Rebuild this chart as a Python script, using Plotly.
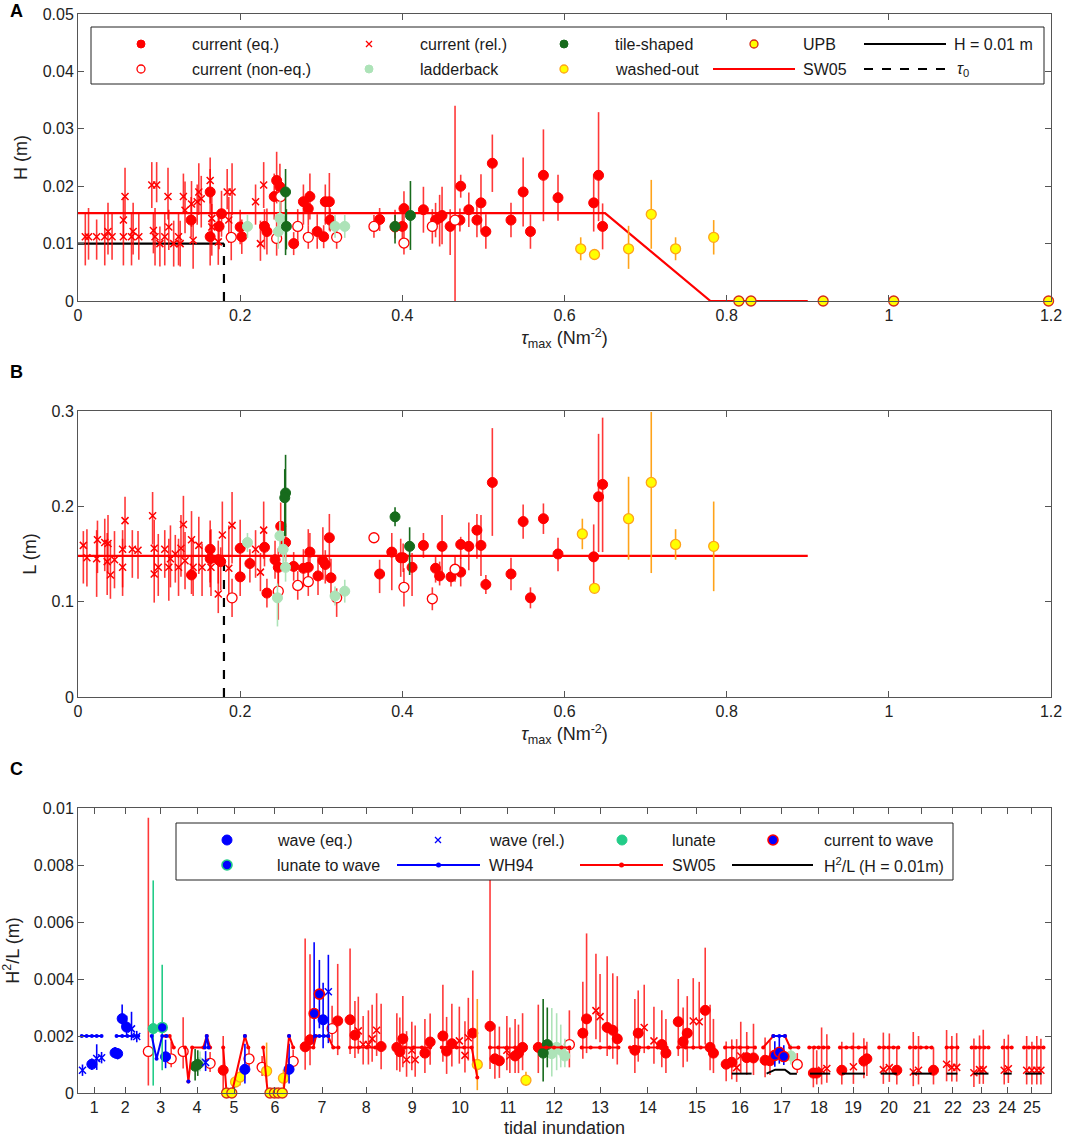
import plotly.graph_objects as go

# ======================= PANEL A : H vs tau_max =======================
A_eq_x = [0.1395,0.163,0.163,0.177,0.174,0.200,0.202,0.230,0.233,0.245,0.242,0.249,0.266,0.278,0.286,
          0.284,0.295,0.303,0.305,0.310,0.311,0.372,0.391,0.402,0.400,0.426,0.441,0.446,0.449,0.459,
          0.472,0.471,0.482,0.492,0.497,0.503,0.511,0.534,0.549,0.558,0.574,0.592,0.636,0.642,0.647]
A_eq_y = [0.0141,0.0190,0.0112,0.0152,0.0130,0.0129,0.0112,0.0130,0.0121,0.0210,0.0182,0.0199,0.0100,0.0173,0.0182,
          0.0161,0.0121,0.0112,0.0173,0.0173,0.0141,0.0142,0.0129,0.0161,0.0130,0.0159,0.0141,0.0145,0.0149,0.0130,
          0.0200,0.0141,0.0159,0.0141,0.0171,0.0121,0.0240,0.0141,0.0190,0.0121,0.0219,0.0180,0.0171,0.0219,0.0130]
A_eq_up = [0.004,0.004,0.003,0.004,0.003,0.003,0.003,0.003,0.004,0.005,0.004,0.004,0.002,0.003,0.004,
           0.003,0.003,0.002,0.003,0.005,0.002,0.002,0.003,0.003,0.003,0.004,0.003,0.004,0.005,0.003,
           0.002,0.002,0.003,0.003,0.005,0.003,0.005,0.003,0.006,0.003,0.008,0.004,0.005,0.011,0.004]
A_eq_dn = [0.003,0.004,0.005,0.004,0.004,0.003,0.003,0.004,0.004,0.004,0.004,0.004,0.002,0.004,0.004,
           0.003,0.003,0.002,0.004,0.005,0.002,0.002,0.002,0.004,0.003,0.004,0.003,0.005,0.005,0.005,
           0.002,0.002,0.003,0.003,0.005,0.003,0.005,0.003,0.006,0.003,0.008,0.004,0.005,0.008,0.004]

A_neq_x = [0.189,0.250,0.245,0.271,0.284,0.319,0.365,0.402,0.437,0.465]
A_neq_y = [0.0111,0.0182,0.0109,0.0130,0.0111,0.0111,0.0130,0.0101,0.0130,0.0141]
A_neq_up = [0.004,0.003,0.003,0.003,0.002,0.002,0.002,0.002,0.003,0.0199]
A_neq_dn = [0.004,0.003,0.003,0.003,0.002,0.002,0.002,0.002,0.003,0.0141]

A_rel_x = [0.009,0.013,0.023,0.033,0.037,0.042,0.056,0.056,0.058,0.066,0.068,0.075,0.091,0.097,0.093,0.095,
           0.101,0.107,0.111,0.112,0.118,0.124,0.126,0.130,0.132,0.140,0.142,0.147,0.149,0.152,0.163,0.165,
           0.165,0.173,0.184,0.190,0.186,0.219,0.225,0.229]
A_rel_y = [0.0112,0.0112,0.0112,0.0112,0.0121,0.0112,0.0112,0.0141,0.0182,0.0112,0.0121,0.0112,0.0202,0.0202,0.0123,0.0112,
           0.0100,0.0112,0.0182,0.0129,0.0100,0.0112,0.0100,0.0182,0.0158,0.0169,0.0106,0.0173,0.0190,0.0178,0.0210,0.0144,
           0.0129,0.0103,0.0190,0.0190,0.0141,0.0173,0.0100,0.0202]
A_rel_up = [0.004,0.005,0.003,0.004,0.005,0.004,0.003,0.004,0.005,0.004,0.005,0.004,0.004,0.004,0.003,0.005,
            0.003,0.004,0.005,0.003,0.004,0.004,0.004,0.004,0.005,0.004,0.004,0.003,0.005,0.004,0.004,0.004,
            0.004,0.005,0.004,0.005,0.004,0.003,0.004,0.004]
A_rel_dn = [0.005,0.004,0.004,0.005,0.004,0.004,0.005,0.003,0.004,0.005,0.004,0.004,0.004,0.003,0.004,0.005,
            0.004,0.005,0.004,0.004,0.004,0.005,0.004,0.003,0.004,0.004,0.005,0.004,0.004,0.005,0.004,0.004,
            0.005,0.004,0.003,0.004,0.004,0.004,0.003,0.004]

A_tile_x = [0.256,0.257,0.391,0.410]
A_tile_y = [0.0190,0.0130,0.0130,0.0149]
A_tile_up = [0.004,0.003,0.002,0.006]
A_tile_dn = [0.011,0.004,0.003,0.006]

A_lad_x = [0.209,0.249,0.247,0.317,0.329]
A_lad_y = [0.0130,0.0144,0.0121,0.0130,0.0130]
A_lad_up = [0.002,0.003,0.003,0.002,0.002]
A_lad_dn = [0.002,0.003,0.003,0.002,0.002]

A_wash_x = [0.620,0.637,0.679,0.707,0.737,0.784]
A_wash_y = [0.0091,0.0081,0.0091,0.0151,0.0091,0.0111]
A_wash_up = [0.002,0.0,0.004,0.006,0.002,0.003]
A_wash_dn = [0.002,0.0,0.0035,0.006,0.002,0.003]

A_upb_x = [0.815,0.830,0.919,1.006,1.197]
A_upb_y = [0.0,0.0,0.0,0.0,0.0]

A_sw05_x = [0.0,0.65,0.78,0.9]
A_sw05_y = [0.0153,0.0153,0.0,0.0]
H001_x = [0.0,0.18]
H001_y = [0.01,0.01]
TAU0 = 0.18
A_tau0_top = 0.01

# ======================= PANEL B : L vs tau_max =======================
B_eq_x = [0.140,0.163,0.163,0.173,0.176,0.200,0.200,0.212,0.230,0.233,0.243,0.250,0.247,0.256,0.266,0.278,
          0.284,0.286,0.296,0.302,0.305,0.310,0.312,0.372,0.387,0.398,0.401,0.412,0.426,0.441,0.446,0.449,
          0.460,0.472,0.472,0.482,0.492,0.497,0.503,0.511,0.534,0.549,0.558,0.574,0.592,0.636,0.642,0.647]
B_eq_y = [0.128,0.155,0.145,0.144,0.142,0.156,0.126,0.140,0.157,0.109,0.144,0.179,0.136,0.162,0.137,0.135,
          0.136,0.152,0.127,0.143,0.139,0.167,0.125,0.129,0.152,0.146,0.146,0.136,0.159,0.135,0.127,0.158,
          0.126,0.160,0.131,0.158,0.175,0.159,0.118,0.225,0.129,0.184,0.104,0.187,0.150,0.147,0.210,0.223]
B_eq_up = [0.020,0.030,0.030,0.020,0.015,0.030,0.020,0.015,0.020,0.015,0.020,0.025,0.020,0.020,0.015,0.020,
           0.040,0.020,0.020,0.035,0.015,0.025,0.020,0.015,0.020,0.020,0.015,0.015,0.013,0.013,0.015,0.033,
           0.010,0.008,0.015,0.025,0.017,0.032,0.010,0.057,0.017,0.018,0.011,0.016,0.017,0.034,0.066,0.070]
B_eq_dn = [0.020,0.035,0.030,0.025,0.030,0.030,0.020,0.020,0.020,0.015,0.020,0.030,0.030,0.020,0.015,0.020,
           0.020,0.020,0.020,0.020,0.020,0.030,0.020,0.020,0.040,0.020,0.015,0.030,0.013,0.015,0.010,0.030,
           0.010,0.015,0.015,0.025,0.030,0.032,0.010,0.056,0.017,0.018,0.011,0.016,0.018,0.031,0.058,0.071]

B_neq_x = [0.190,0.247,0.271,0.284,0.319,0.365,0.402,0.437,0.465]
B_neq_y = [0.104,0.111,0.117,0.121,0.104,0.167,0.115,0.103,0.134]
B_neq_up = [0.020,0.025,0.015,0.015,0.010,0.005,0.020,0.012,0.013]
B_neq_dn = [0.020,0.030,0.015,0.015,0.020,0.005,0.020,0.012,0.013]

B_rel_x = [0.0066,0.011,0.024,0.023,0.033,0.037,0.036,0.040,0.045,0.055,0.055,0.058,0.067,0.074,0.092,0.094,
           0.094,0.099,0.107,0.112,0.114,0.120,0.124,0.127,0.130,0.132,0.140,0.142,0.149,0.153,0.164,0.173,
           0.178,0.186,0.190,0.219,0.225,0.229]
B_rel_y = [0.159,0.146,0.165,0.145,0.162,0.161,0.142,0.128,0.144,0.155,0.136,0.185,0.155,0.154,0.190,0.156,
           0.129,0.136,0.155,0.136,0.145,0.150,0.136,0.156,0.181,0.143,0.165,0.136,0.159,0.136,0.136,0.108,
           0.170,0.135,0.180,0.155,0.131,0.175]
B_rel_up = [0.015,0.030,0.020,0.030,0.025,0.030,0.030,0.035,0.030,0.020,0.030,0.025,0.020,0.020,0.025,0.030,
            0.030,0.035,0.020,0.030,0.035,0.020,0.030,0.035,0.030,0.030,0.030,0.030,0.030,0.025,0.040,0.030,
            0.035,0.045,0.035,0.020,0.020,0.030]
B_rel_dn = [0.040,0.030,0.035,0.040,0.030,0.030,0.035,0.025,0.030,0.040,0.030,0.030,0.030,0.030,0.030,0.030,
            0.030,0.030,0.030,0.035,0.030,0.030,0.030,0.030,0.035,0.030,0.030,0.030,0.030,0.030,0.030,0.020,
            0.030,0.030,0.040,0.030,0.020,0.030]

B_tile_x = [0.256,0.255,0.391,0.409]
B_tile_y = [0.214,0.209,0.189,0.158]
B_tile_up = [0.040,0.030,0.010,0.020]
B_tile_dn = [0.045,0.040,0.010,0.030]

B_lad_x = [0.209,0.249,0.253,0.256,0.246,0.317,0.329]
B_lad_y = [0.162,0.169,0.155,0.136,0.104,0.106,0.111]
B_lad_up = [0.010,0.015,0.015,0.015,0.015,0.010,0.012]
B_lad_dn = [0.010,0.015,0.015,0.015,0.030,0.010,0.012]

B_wash_x = [0.622,0.637,0.679,0.707,0.737,0.784]
B_wash_y = [0.171,0.114,0.187,0.225,0.160,0.158]
B_wash_up = [0.016,0.0,0.044,0.074,0.016,0.047]
B_wash_dn = [0.016,0.0,0.043,0.095,0.016,0.047]

B_sw05_x = [0.0,0.9]
B_sw05_y = [0.148,0.148]
B_tau0_top = 0.14

# ======================= PANEL C : H^2/L per tidal inundation =======================
C_tick_pos = [4.3,12.6,22.1,31.8,41.7,52.6,65.2,77.0,89.3,102.1,114.9,127.2,139.5,152.3,165.4,176.9,
              188.1,198.0,207.1,216.7,225.5,233.8,241.3,248.3,254.9]
C_tick_txt = [str(i) for i in range(1, 26)]

C_eq_x = [38.8,60.7,62.0,69.4,72.7,74.0,81.0,85.2,86.0,86.8,92.7,94.1,97.5,98.5,99.9,105.5,110.1,111.4,112.6,
          116.8,117.7,118.8,123.0,134.9,135.9,141.4,142.9,144.1,148.8,149.7,156.0,157.1,160.4,161.7,162.8,
          167.6,168.9,169.8,173.2,174.7,178.7,180.5,183.6,184.9,196.5,197.4,204.1,210.0,210.8,218.8,228.6]
C_eq_y = [0.0008,0.00162,0.00187,0.00253,0.00257,0.00203,0.00163,0.0016,0.00145,0.0019,0.0014,0.00179,0.0020,
          0.00147,0.00173,0.0021,0.00234,0.0012,0.00113,0.0013,0.0014,0.0016,0.0016,0.0021,0.0026,0.0023,0.0022,
          0.0019,0.0015,0.0021,0.0017,0.0014,0.0025,0.0018,0.0021,0.0029,0.0016,0.0014,0.00101,0.00108,0.00124,
          0.00123,0.00115,0.00113,0.0007,0.0007,0.0008,0.00112,0.0012,0.0008,0.0008]
C_eq_up = [0.0012,0.0038,0.0030,0.0020,0.0025,0.0012,0.0015,0.0012,0.0012,0.0015,0.0012,0.0010,0.0018,0.0012,
           0.0014,0.0022,0.0052,0.0012,0.0012,0.0013,0.0010,0.0012,0.0015,0.0018,0.0030,0.0025,0.0020,0.0022,
           0.0018,0.0015,0.0012,0.0012,0.0015,0.0012,0.0013,0.0022,0.0015,0.0012,0.0008,0.0008,0.0009,0.0012,
           0.0008,0.0007,0.0009,0.0008,0.0010,0.0008,0.0006,0.0008,0.0008]
C_eq_dn = [0.0008,0.0008,0.0009,0.0012,0.0012,0.0008,0.0008,0.0008,0.0007,0.0010,0.0007,0.0008,0.0009,0.0008,
           0.0008,0.0010,0.0015,0.0007,0.0006,0.0006,0.0007,0.0008,0.0009,0.0009,0.0012,0.0010,0.0010,0.0009,
           0.0008,0.0010,0.0008,0.0007,0.0012,0.0009,0.0010,0.0012,0.0008,0.0007,0.0006,0.0006,0.0006,0.0006,
           0.0006,0.0005,0.0005,0.0004,0.0005,0.0006,0.0006,0.0005,0.0005]

C_neq_x = [18.8,24.9,28.1,35.3,45.7,49.2,57.5,67.9,131.3,192.2]
C_neq_y = [0.00146,0.0012,0.00146,0.00104,0.0012,0.0009,0.00111,0.00226,0.0017,0.0010]
C_neq_up = [0.0082,0.0006,0.0012,0.0004,0.0004,0.0004,0.0004,0.0008,0.0012,0.0004]
C_neq_dn = [0.0012,0.0003,0.0006,0.0003,0.0003,0.0003,0.0003,0.0005,0.0008,0.0003]

C_rel_x = [74.9,76.2,77.6,78.6,79.8,87.8,90.1,89.2,101.9,103.4,104.3,114.6,115.4,138.4,139.5,151.3,153.9,
           164.4,166.0,176.0,177.1,198.7,200.1,207.2,215.2,216.8,223.2,224.6,232.1,233.5,234.8,239.4,240.9,
           241.9,247.5,248.6,253.5,254.9,256.2,257.3]
C_rel_y = [0.00218,0.0017,0.0017,0.0019,0.0022,0.00117,0.00117,0.0015,0.00183,0.00132,0.00194,0.0015,0.0013,
           0.00289,0.00268,0.0023,0.00183,0.00253,0.0025,0.00089,0.0013,0.0008,0.00086,0.00092,0.00082,0.00089,
           0.00074,0.0008,0.00101,0.0009,0.0009,0.00071,0.00082,0.00082,0.0008,0.00085,0.0008,0.0008,0.0008,0.0008]
C_rel_up = [0.0012,0.0010,0.0012,0.0012,0.0013,0.0010,0.0012,0.0010,0.0012,0.0012,0.0014,0.0012,0.0010,
            0.0020,0.0015,0.0015,0.0012,0.0015,0.0014,0.0010,0.0012,0.0015,0.0012,0.0012,0.0013,0.0012,
            0.0014,0.0012,0.0012,0.0011,0.0012,0.0012,0.0012,0.0014,0.0011,0.0012,0.0012,0.0010,0.0012,0.0011]
C_rel_dn = [0.0008,0.0007,0.0007,0.0008,0.0009,0.0006,0.0006,0.0007,0.0008,0.0006,0.0008,0.0007,0.0006,
            0.0010,0.0009,0.0009,0.0008,0.0010,0.0009,0.0005,0.0006,0.0005,0.0005,0.0006,0.0005,0.0005,
            0.0005,0.0005,0.0006,0.0005,0.0005,0.0005,0.0005,0.0005,0.0005,0.0005,0.0005,0.0005,0.0005,0.0005]

C_wave_x = [3.7,9.9,10.6,11.8,13.0,23.4,44.6,56.4,65.5]
C_wave_y = [0.00101,0.00141,0.00138,0.00261,0.00231,0.00127,0.00083,0.00083,0.00257]
C_wave_up = [0.0002,0.0002,0.0002,0.0005,0.0004,0.0006,0.0009,0.0009,0.0013]
C_wave_dn = [0.0002,0.0002,0.0002,0.0003,0.0003,0.0004,0.0005,0.0005,0.0010]

C_wrel_x = [1.2,5.0,6.3,14.3,15.7,34.1,66.9]
C_wrel_y = [0.0008,0.00121,0.00124,0.00225,0.00198,0.00107,0.00355]
C_wrel_up = [0.0002,0.0005,0.0002,0.0006,0.0002,0.0004,0.0013]
C_wrel_dn = [0.0002,0.0004,0.0002,0.0004,0.0002,0.0003,0.0018]

C_c2w_x = [63.1,64.5,186.2,187.4,188.6]
C_c2w_y = [0.00279,0.00347,0.00132,0.00143,0.00128]
C_c2w_up = [0.0025,0.0012,0.0005,0.0006,0.0004]
C_c2w_dn = [0.0011,0.0012,0.0004,0.0004,0.0003]

C_lun_x = [20.1]
C_lun_y = [0.00226]
C_lun_up = [0.0052]
C_lun_dn = [0.0020]

C_l2w_x = [22.5]
C_l2w_y = [0.0023]
C_l2w_up = [0.0022]
C_l2w_dn = [0.0015]

C_tile_x = [31.3,32.0,124.3,125.4]
C_tile_y = [0.00094,0.0010,0.0014,0.0017]
C_tile_up = [0.0006,0.0005,0.0019,0.0013]
C_tile_dn = [0.0005,0.0004,0.0010,0.0008]

C_lad_x = [32.6,126.6,127.9,129.0,130.1,190.5]
C_lad_y = [0.00106,0.00138,0.0016,0.0015,0.0013,0.0013]
C_lad_up = [0.0004,0.0016,0.0012,0.0009,0.0006,0.0004]
C_lad_dn = [0.0003,0.0008,0.0008,0.0006,0.0004,0.0003]

C_wash_x = [42.1,43.3,50.4,54.9,106.7,119.7]
C_wash_y = [0.00039,0.00056,0.00077,0.00052,0.0010,0.00045]
C_wash_up = [0.0002,0.0003,0.0010,0.0003,0.0023,0.0003]
C_wash_dn = [0.0002,0.0003,0.0004,0.0003,0.0009,0.0002]

C_upb_x = [39.7,41.1,51.3,52.5,53.5,54.6]
C_upb_y = [0.0,0.0,0.0,0.0,0.0,0.0]

# model curves, one segment per tidal inundation: (sample index, value)
C_sw05_segs = [
    [(23.4,0.0020),(24.5,0.0020),(25.6,0.0016)],
    [(28.6,0.0016),(29.5,0.0004),(30.5,0.0016),(33.5,0.0016),(34.4,0.0020),(35.3,0.0016)],
    [(38.8,0.0016),(39.7,0.0),(41.1,0.0),(44.6,0.0020),(45.5,0.0016)],
    [(49.5,0.0016),(50.7,0.0),(54.9,0.0),(56.4,0.0020),(57.5,0.0016)],
    [(60.2,0.0016),(62.9,0.0016),(63.6,0.0020),(66.8,0.0020),(68.2,0.0016),(69.6,0.0016)],
    [(72.7,0.0016),(75.0,0.0016),(77.2,0.0016),(79.4,0.0016),(81.6,0.0016)],
    [(85.2,0.0016),(87.4,0.0016),(89.7,0.0016),(91.9,0.0016),(94.1,0.0016)],
    [(97.2,0.0016),(99.2,0.0016),(101.2,0.0016),(103.2,0.0016),(105.2,0.0016),(106.7,0.00054)],
    [(110.1,0.0016),(112.3,0.0016),(114.6,0.0016),(116.8,0.0016),(119.0,0.0016)],
    [(123.0,0.0016),(125.1,0.0016),(127.2,0.0016),(129.2,0.0016),(131.3,0.0016)],
    [(134.6,0.0016),(137.0,0.0016),(139.5,0.0016),(142.0,0.0016),(144.4,0.0016)],
    [(147.5,0.0016),(150.0,0.0016),(152.4,0.0016),(154.9,0.0016),(157.3,0.0016)],
    [(160.4,0.0016),(162.4,0.0016),(164.4,0.0016),(166.4,0.0016),(168.4,0.0016)],
    [(172.9,0.0016),(174.9,0.0016),(176.9,0.0016),(178.9,0.0016),(180.9,0.0016)],
    [(183.1,0.0016),(185.8,0.0020),(188.9,0.0020),(190.3,0.0016),(192.5,0.0016)],
    [(195.4,0.0016),(196.7,0.0016),(197.9,0.0016),(199.2,0.0016),(200.5,0.0016)],
    [(203.6,0.0016),(205.3,0.0016),(206.9,0.0016),(208.6,0.0016),(210.3,0.0016)],
    [(214.1,0.0016),(215.4,0.0016),(216.6,0.0016),(217.9,0.0016),(219.2,0.0016)],
    [(222.3,0.0016),(223.8,0.0016),(225.2,0.0016),(226.7,0.0016),(228.1,0.0016)],
    [(232.1,0.0016),(233.5,0.0016),(235.0,0.0016)],
    [(238.8,0.0016),(239.9,0.0016),(241.0,0.0016),(242.2,0.0016),(243.3,0.0016)],
    [(247.1,0.0016),(248.3,0.0016),(249.5,0.0016)],
    [(252.8,0.0016),(254.1,0.0016),(255.4,0.0016),(256.7,0.0016),(258.0,0.0016)],
]
C_wh94_segs = [
    [(1.0,0.0020),(2.3,0.0020),(3.7,0.0020),(5.0,0.0020),(6.3,0.0020)],
    [(10.3,0.0020),(11.8,0.0020),(13.2,0.0020),(14.7,0.0020),(16.1,0.0020)],
    [(19.7,0.0020),(21.0,0.0012),(22.5,0.0020),(23.7,0.0020)],
    [(29.5,0.0004)],
    [(33.9,0.0016),(34.4,0.0020),(34.9,0.0016)],
    [(44.6,0.0020)],
    [(56.4,0.0020)],
    [(63.3,0.0020),(64.5,0.0020),(65.7,0.0020),(66.9,0.0020)],
    [(185.8,0.0020),(187.4,0.0020),(188.9,0.0020)],
]
C_h2l_segs = [
    [(174.7,0.00068),(180.0,0.00068)],
    [(184.0,0.00068),(186.3,0.00082),(188.9,0.00082),(190.3,0.00068),(192.1,0.00068)],
    [(195.6,0.00068),(201.0,0.00068)],
    [(204.1,0.00068),(210.3,0.00068)],
    [(214.5,0.00068),(218.8,0.00068)],
    [(222.8,0.00068),(228.1,0.00068)],
    [(232.1,0.00068),(235.0,0.00068)],
    [(239.3,0.00068),(243.3,0.00068)],
    [(247.3,0.00068),(249.5,0.00068)],
    [(253.1,0.00068),(257.5,0.00068)],
]

# ======================= styling =======================
RED = '#ff0000'
RED_ERR = 'rgba(255,0,0,0.78)'
DKGREEN = '#176b1c'
LTGREEN = '#ade3b8'
YELLOW = '#ffff00'
ORANGE = '#ffa31a'
UPB_EDGE = '#d42a1a'
BLUE = '#0000ff'
LUNATE = '#22cc88'
FONT = 'Arial, Liberation Sans, sans-serif'

fig = go.Figure()


def axn(ax):
    return ('x' if ax == 1 else 'x%d' % ax), ('y' if ax == 1 else 'y%d' % ax)


def pts(ax, x, y, up, dn, symbol, size, fill, edge, ew, ecol, clip=True):
    xa, ya = axn(ax)
    err = None
    if up is not None:
        err = dict(type='data', symmetric=False, array=up, arrayminus=dn,
                   color=ecol, thickness=1.6, width=0)
    fig.add_trace(go.Scatter(
        x=x, y=y, mode='markers', xaxis=xa, yaxis=ya, showlegend=False, hoverinfo='skip',
        marker=dict(symbol=symbol, size=size, color=fill, line=dict(color=edge, width=ew)),
        error_y=err, cliponaxis=clip))


def line(ax, x, y, color, width, dash='solid', markers=False, clip=False):
    xa, ya = axn(ax)
    fig.add_trace(go.Scatter(
        x=x, y=y, mode='lines+markers' if markers else 'lines', xaxis=xa, yaxis=ya,
        showlegend=False, hoverinfo='skip',
        line=dict(color=color, width=width, dash=dash),
        marker=dict(size=4, color=color), cliponaxis=clip))


def segs_xy(segs):
    xs, ys = [], []
    for s in segs:
        for (a, b) in s:
            xs.append(a)
            ys.append(b)
        xs.append(None)
        ys.append(None)
    return xs, ys


# ---- Panel A ----
line(1, A_sw05_x, A_sw05_y, RED, 2.2)
line(1, H001_x, H001_y, 'black', 2.2)
line(1, [TAU0, TAU0], [0, A_tau0_top], 'black', 2.2, dash='dash')
pts(1, A_rel_x, A_rel_y, A_rel_up, A_rel_dn, 'x-thin-open', 7, RED, RED, 1.5, RED_ERR)
pts(1, A_eq_x, A_eq_y, A_eq_up, A_eq_dn, 'circle', 10, RED, RED, 1, RED_ERR)
pts(1, A_neq_x, A_neq_y, A_neq_up, A_neq_dn, 'circle', 10, 'white', RED, 1.3, RED_ERR)
pts(1, A_lad_x, A_lad_y, A_lad_up, A_lad_dn, 'circle', 10, LTGREEN, LTGREEN, 1, LTGREEN)
pts(1, A_tile_x, A_tile_y, A_tile_up, A_tile_dn, 'circle', 10, DKGREEN, DKGREEN, 1, DKGREEN)
pts(1, A_wash_x, A_wash_y, A_wash_up, A_wash_dn, 'circle', 10, YELLOW, ORANGE, 1.3, ORANGE)
pts(1, A_upb_x, A_upb_y, None, None, 'circle', 10, YELLOW, UPB_EDGE, 1.3, None, clip=False)

# ---- Panel B ----
line(2, B_sw05_x, B_sw05_y, RED, 2.2)
line(2, [TAU0, TAU0], [0, B_tau0_top], 'black', 2.2, dash='dash')
pts(2, B_rel_x, B_rel_y, B_rel_up, B_rel_dn, 'x-thin-open', 7, RED, RED, 1.5, RED_ERR)
pts(2, B_eq_x, B_eq_y, B_eq_up, B_eq_dn, 'circle', 10, RED, RED, 1, RED_ERR)
pts(2, B_neq_x, B_neq_y, B_neq_up, B_neq_dn, 'circle', 10, 'white', RED, 1.3, RED_ERR)
pts(2, B_lad_x, B_lad_y, B_lad_up, B_lad_dn, 'circle', 10, LTGREEN, LTGREEN, 1, LTGREEN)
pts(2, B_tile_x, B_tile_y, B_tile_up, B_tile_dn, 'circle', 10, DKGREEN, DKGREEN, 1, DKGREEN)
pts(2, B_wash_x, B_wash_y, B_wash_up, B_wash_dn, 'circle', 10, YELLOW, ORANGE, 1.3, ORANGE)

# ---- Panel C ----
pts(3, C_rel_x, C_rel_y, C_rel_up, C_rel_dn, 'x-thin-open', 7, RED, RED, 1.5, RED_ERR)
pts(3, C_eq_x, C_eq_y, C_eq_up, C_eq_dn, 'circle', 10, RED, RED, 1, RED_ERR)
pts(3, C_neq_x, C_neq_y, C_neq_up, C_neq_dn, 'circle', 10, 'white', RED, 1.3, RED_ERR)
pts(3, C_lad_x, C_lad_y, C_lad_up, C_lad_dn, 'circle', 10, LTGREEN, LTGREEN, 1, LTGREEN)
pts(3, C_tile_x, C_tile_y, C_tile_up, C_tile_dn, 'circle', 10, DKGREEN, DKGREEN, 1, DKGREEN)
pts(3, C_wash_x, C_wash_y, C_wash_up, C_wash_dn, 'circle', 10, YELLOW, ORANGE, 1.3, ORANGE)
pts(3, C_lun_x, C_lun_y, C_lun_up, C_lun_dn, 'circle', 10, LUNATE, LUNATE, 1, LUNATE)
pts(3, C_wrel_x, C_wrel_y, C_wrel_up, C_wrel_dn, 'x-thin-open', 7, BLUE, BLUE, 1.5, BLUE)
pts(3, C_wave_x, C_wave_y, C_wave_up, C_wave_dn, 'circle', 10, BLUE, BLUE, 1, BLUE)
pts(3, C_l2w_x, C_l2w_y, C_l2w_up, C_l2w_dn, 'circle', 10, BLUE, LUNATE, 1.6, LUNATE)
pts(3, C_c2w_x, C_c2w_y, C_c2w_up, C_c2w_dn, 'circle', 10, BLUE, RED, 1.6, BLUE)
sx, sy = segs_xy(C_sw05_segs)
line(3, sx, sy, RED, 2.0, markers=True)
wx, wy = segs_xy(C_wh94_segs)
line(3, wx, wy, BLUE, 2.0, markers=True)
hx, hy = segs_xy(C_h2l_segs)
line(3, hx, hy, 'black', 2.0)
pts(3, C_upb_x, C_upb_y, None, None, 'circle', 10, YELLOW, UPB_EDGE, 1.3, None, clip=False)

# ======================= legends (drawn on a hidden overlay axis in pixel units) =======================
LEG_A_BOX = (91, 27, 1044, 84)
LEG_A_KEYS = [
    ('m', ('circle', 8, RED, RED, 1), 141, 44, 'current (eq.)', 190),
    ('m', ('x-thin-open', 6, RED, RED, 1.3), 369, 44, 'current (rel.)', 418),
    ('m', ('circle', 8, DKGREEN, DKGREEN, 1), 564, 44, 'tile-shaped', 613),
    ('m', ('circle', 8, YELLOW, UPB_EDGE, 1.3), 754, 44, 'UPB', 801),
    ('l', ('black', 'solid', False), (864, 946), 44, 'H = 0.01 m', 952),
    ('m', ('circle', 8, 'white', RED, 1.3), 141, 69, 'current (non-eq.)', 190),
    ('m', ('circle', 8, LTGREEN, LTGREEN, 1), 369, 69, 'ladderback', 418),
    ('m', ('circle', 8, YELLOW, ORANGE, 1.3), 564, 69, 'washed-out', 613),
    ('l', (RED, 'solid', False), (713, 795), 69, 'SW05', 801),
    ('l', ('black', 'dash', False), (864, 946), 69, '<i>τ</i><sub>0</sub>', 955),
]
LEG_C_BOX = (176, 823, 953, 880)
LEG_C_KEYS = [
    ('m', ('circle', 10, BLUE, BLUE, 1), 227, 840, 'wave (eq.)', 275),
    ('m', ('x-thin-open', 6, BLUE, BLUE, 1.3), 438, 840, 'wave (rel.)', 487),
    ('m', ('circle', 10, LUNATE, LUNATE, 1), 622, 840, 'lunate', 670),
    ('m', ('circle', 10, BLUE, RED, 1.6), 773, 840, 'current to wave', 822),
    ('m', ('circle', 10, BLUE, LUNATE, 1.6), 227, 865, 'lunate to wave', 275),
    ('l', (BLUE, 'solid', True), (397, 480), 865, 'WH94', 487),
    ('l', (RED, 'solid', True), (580, 663), 865, 'SW05', 670),
    ('l', ('black', 'solid', False), (732, 813), 865, 'H<sup>2</sup>/L (H = 0.01m)', 822),
]


def draw_legend(box, keys):
    x0, y0, x1, y1 = box
    fig.add_shape(type='rect', xref='x4', yref='y4', x0=x0, y0=y0, x1=x1, y1=y1,
                  line=dict(color='#222222', width=1), fillcolor='white', layer='below')
    for kind, st, kx, ky, label, lx in keys:
        if kind == 'm':
            sym, sz, fill, edge, ew = st
            fig.add_trace(go.Scatter(x=[kx], y=[ky], mode='markers', xaxis='x4', yaxis='y4',
                                     showlegend=False, hoverinfo='skip', cliponaxis=False,
                                     marker=dict(symbol=sym, size=sz, color=fill,
                                                 line=dict(color=edge, width=ew))))
        else:
            col, dash, dot = st
            fig.add_trace(go.Scatter(x=[kx[0], kx[1]], y=[ky, ky], mode='lines', xaxis='x4', yaxis='y4',
                                     showlegend=False, hoverinfo='skip', cliponaxis=False,
                                     line=dict(color=col, width=2.2, dash=dash)))
            if dot:
                fig.add_trace(go.Scatter(x=[(kx[0] + kx[1]) / 2], y=[ky], mode='markers',
                                         xaxis='x4', yaxis='y4', showlegend=False, hoverinfo='skip',
                                         cliponaxis=False, marker=dict(size=5, color=col)))
        fig.add_annotation(text=label, xref='x4', yref='y4', x=lx, y=ky, xanchor='left',
                           yanchor='middle', showarrow=False,
                           font=dict(size=16, family=FONT, color='#1a1a1a'))


draw_legend(LEG_A_BOX, LEG_A_KEYS)
draw_legend(LEG_C_BOX, LEG_C_KEYS)

# ======================= layout =======================
AX = dict(showline=True, linecolor='#555555', linewidth=1, mirror='ticks', ticks='inside', ticklen=6,
          tickcolor='#555555', showgrid=False, zeroline=False, automargin=False,
          ticklabeloverflow='allow',
          tickfont=dict(size=16, family=FONT, color='#222222'))
TITLEF = dict(size=18, family=FONT, color='#222222')

tau_title = '<i>τ</i><sub>max</sub> (Nm<sup>-2</sup>)'
tx = [0, 0.2, 0.4, 0.6, 0.8, 1, 1.2]
tt = ['0', '0.2', '0.4', '0.6', '0.8', '1', '1.2']

fig.update_layout(
    template='none',
    width=1065, height=1141,
    margin=dict(l=78, r=14, t=14, b=48),
    paper_bgcolor='white', plot_bgcolor='rgba(0,0,0,0)',
    font=dict(family=FONT, size=16, color='#222222'),
    showlegend=False,
    xaxis=dict(AX, domain=[0, 1], anchor='y', range=[0, 1.2], tickvals=tx, ticktext=tt,
               title=dict(text=tau_title, font=TITLEF, standoff=8)),
    yaxis=dict(AX, domain=[0.734, 1.0], anchor='x', range=[0, 0.05],
               tickvals=[0, 0.01, 0.02, 0.03, 0.04, 0.05],
               ticktext=['0', '0.01', '0.02', '0.03', '0.04', '0.05'],
               title=dict(text='H (m)', font=TITLEF, standoff=10)),
    xaxis2=dict(AX, domain=[0, 1], anchor='y2', range=[0, 1.2], tickvals=tx, ticktext=tt,
                title=dict(text=tau_title, font=TITLEF, standoff=8)),
    yaxis2=dict(AX, domain=[0.367, 0.6321], anchor='x2', range=[0, 0.3],
                tickvals=[0, 0.1, 0.2, 0.3], ticktext=['0', '0.1', '0.2', '0.3'],
                title=dict(text='L (m)', font=TITLEF, standoff=10)),
    xaxis3=dict(AX, domain=[0, 1], anchor='y3', range=[0, 260], tickvals=C_tick_pos, ticktext=C_tick_txt,
                title=dict(text='tidal inundation', font=TITLEF, standoff=6)),
    yaxis3=dict(AX, domain=[0, 0.2641], anchor='x3', range=[0, 0.01],
                tickvals=[0, 0.002, 0.004, 0.006, 0.008, 0.01],
                ticktext=['0', '0.002', '0.004', '0.006', '0.008', '0.01'],
                title=dict(text='H<sup>2</sup>/L (m)', font=TITLEF, standoff=10)),
    xaxis4=dict(domain=[0, 1], anchor='y4', range=[78, 1051], visible=False, fixedrange=True),
    yaxis4=dict(domain=[0, 1], anchor='x4', range=[1093, 14], visible=False, fixedrange=True),
)

for lab, yy in [('A', 1.003), ('B', 0.668), ('C', 0.30)]:
    fig.add_annotation(text='<b>%s</b>' % lab, xref='paper', yref='paper', x=-0.072, y=yy,
                       xanchor='left', yanchor='middle', showarrow=False,
                       font=dict(size=18, family=FONT, color='black'))

# remove the default page margin so the figure sits at the window's top-left corner
fig.write_html('out.html', config={'displayModeBar': False},
               post_script="document.body.style.margin='0';document.body.style.overflow='hidden';")
